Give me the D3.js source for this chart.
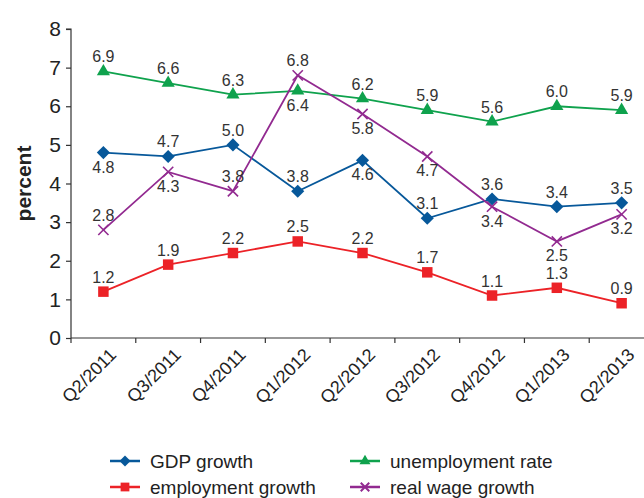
<!DOCTYPE html>
<meta charset="utf-8">
<style>
body { margin: 0; background: #fff; }
svg text { font-family: "Liberation Sans", Arial, sans-serif; fill: #222; }
.axis path, .axis line { stroke: #333; stroke-width: 1.2; }
.axis text { font-size: 21px; }
.xaxis text { font-size: 18px; }
.lbl { font-size: 16px; fill: #333; }
.leg { font-size: 19px; }
</style>
<body></body>
<script src="https://d3js.org/d3.v7.min.js"></script>
<script>
// categories and series
var quarters = ["Q2/2011", "Q3/2011", "Q4/2011", "Q1/2012", "Q2/2012", "Q3/2012", "Q4/2012", "Q1/2013", "Q2/2013"];
var gdpGrowth = [4.8, 4.7, 5.0, 3.8, 4.6, 3.1, 3.6, 3.4, 3.5];
var unemploymentRate = [6.9, 6.6, 6.3, 6.4, 6.2, 5.9, 5.6, 6.0, 5.9];
var employmentGrowth = [1.2, 1.9, 2.2, 2.5, 2.2, 1.7, 1.1, 1.3, 0.9];
var realWageGrowth = [2.8, 4.3, 3.8, 6.8, 5.8, 4.7, 3.4, 2.5, 3.2];
var yTicks = [0, 1, 2, 3, 4, 5, 6, 7, 8];

// label placement: 1 = above, -1 = below
var gdpPos = [-1, 1, 1, 1, -1, 1, 1, 1, 1];
var unempPos = [1, 1, 1, -1, 1, 1, 1, 1, 1];
var emplPos = [1, 1, 1, 1, 1, 1, 1, 1, 1];
var wagePos = [1, -1, 1, 1, -1, -1, -1, -1, -1];

var series = [
  {name: "GDP growth", values: gdpGrowth, pos: gdpPos, color: "#07589a", sym: d3.symbolDiamond2, size: 110},
  {name: "unemployment rate", values: unemploymentRate, pos: unempPos, color: "#0fa24d", sym: d3.symbolTriangle, size: 75},
  {name: "employment growth", values: employmentGrowth, pos: emplPos, color: "#ec2227", sym: d3.symbolSquare, size: 110},
  {name: "real wage growth", values: realWageGrowth, pos: wagePos, color: "#922a90", sym: d3.symbolX, size: 70}
];

var svg = d3.select("body").append("svg")
    .attr("width", 644)
    .attr("height", 498);

var pLeft = 71, pRight = 654, pTop = 29, pBottom = 338;

var x = d3.scaleBand().domain(quarters).range([pLeft, pRight]);
var y = d3.scaleLinear().domain([0, 8]).range([pBottom, pTop]);

// y axis
svg.append("g")
    .attr("class", "axis")
    .attr("transform", "translate(" + pLeft + ",0)")
    .call(d3.axisLeft(y).tickValues(yTicks).tickSize(5).tickPadding(5).tickFormat(d3.format("d")))
    .call(g => g.select(".domain").attr("d", "M-5," + pTop + "H0V" + pBottom));

// x axis
var xa = svg.append("g")
    .attr("class", "axis xaxis")
    .attr("transform", "translate(0," + pBottom + ")");
xa.append("line").attr("x1", pLeft).attr("x2", 644).attr("stroke", "#333").attr("stroke-width", 1.2);
xa.selectAll(".tk").data(quarters).enter().append("line")
    .attr("x1", d => x(d)).attr("x2", d => x(d))
    .attr("y1", 0).attr("y2", 5)
    .attr("stroke", "#333");
xa.selectAll(".xl").data(quarters).enter().append("text")
    .attr("text-anchor", "end")
    .attr("transform", d => "translate(" + (x(d) + x.bandwidth() / 2 + 5) + ",9) rotate(-45)")
    .attr("dy", "0.7em")
    .text(d => d);

// y title
svg.append("text")
    .attr("transform", "translate(31," + ((pTop + pBottom) / 2) + ") rotate(-90)")
    .attr("text-anchor", "middle")
    .style("font-size", "21px")
    .style("font-weight", "bold")
    .style("font-family", "'Liberation Sans Narrow', 'Liberation Sans', sans-serif")
    .text("percent");

var cx = function(i) { return x(quarters[i]) + x.bandwidth() / 2; };

var line = d3.line()
    .x(function(d, i) { return cx(i); })
    .y(function(d) { return y(d); });

series.forEach(function(s) {
  var g = svg.append("g");
  g.append("path")
      .attr("d", line(s.values))
      .attr("fill", "none")
      .attr("stroke", s.color)
      .attr("stroke-width", 1.8);
  var isX = s.sym === d3.symbolX;
  g.selectAll("path.m").data(s.values).enter().append("path")
      .attr("class", "m")
      .attr("d", d3.symbol().type(s.sym).size(s.size))
      .attr("transform", (d, i) => "translate(" + cx(i) + "," + y(d) + ")")
      .attr("fill", isX ? "none" : s.color)
      .attr("stroke", isX ? s.color : "none")
      .attr("stroke-width", 1.6);
  g.selectAll("text").data(s.values).enter().append("text")
      .attr("class", "lbl")
      .attr("text-anchor", "middle")
      .attr("x", (d, i) => cx(i))
      .attr("y", (d, i) => y(d) + (s.pos[i] > 0 ? -9 : 20))
      .text(d => d3.format(".1f")(d));
});

// legend
var legendItems = [
  {s: series[0], lx: 110, ly: 461},
  {s: series[2], lx: 110, ly: 487},
  {s: series[1], lx: 350, ly: 461},
  {s: series[3], lx: 350, ly: 487}
];
legendItems.forEach(function(it) {
  var s = it.s;
  var g = svg.append("g").attr("transform", "translate(" + it.lx + "," + it.ly + ")");
  g.append("line").attr("x1", 0).attr("x2", 30).attr("stroke", s.color).attr("stroke-width", 2.5);
  var isX = s.sym === d3.symbolX;
  g.append("path")
      .attr("d", d3.symbol().type(s.sym).size(s.size * 0.7))
      .attr("transform", "translate(15,0)")
      .attr("fill", isX ? "none" : s.color)
      .attr("stroke", isX ? s.color : "none")
      .attr("stroke-width", 2);
  g.append("text").attr("class", "leg").attr("x", 40).attr("dy", "0.35em").text(s.name);
});
</script>
